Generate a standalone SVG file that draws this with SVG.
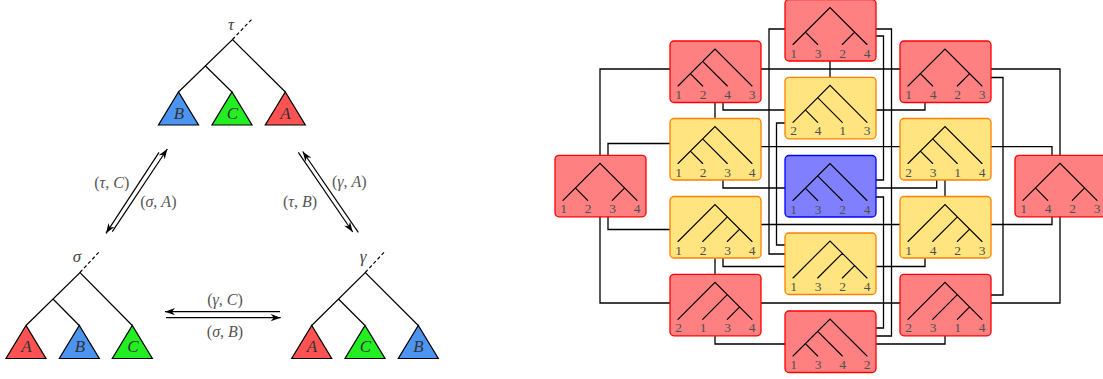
<svg xmlns="http://www.w3.org/2000/svg" xmlns:xlink="http://www.w3.org/1999/xlink" width="1103" height="379" viewBox="0 0 1103 379">
<style>
.edge{fill:none;stroke:#000;stroke-width:1.3}
.tl{fill:none;stroke:#000;stroke-width:1.1;stroke-linecap:round}
.lt{fill:none;stroke:#000;stroke-width:1.2}
.dash{fill:none;stroke:#000;stroke-width:1.2;stroke-dasharray:3.5,2.5}
.red{fill:#FF8080;stroke:#FF0000;stroke-width:1.3}
.yel{fill:#FFE480;stroke:#FF8000;stroke-width:1.3}
.blu{fill:#8080FF;stroke:#0000FF;stroke-width:1.3}
.num{font-family:"Liberation Serif",serif;font-size:13.5px;fill:#505050;text-anchor:middle}
.tri-r{fill:#FF5252;stroke:#000;stroke-width:1.2}
.tri-g{fill:#22EE22;stroke:#000;stroke-width:1.2}
.tri-b{fill:#4C94F2;stroke:#000;stroke-width:1.2}
.tlab{font-family:"Liberation Serif",serif;font-style:italic;font-size:17px;fill:#333;text-anchor:middle}
.rlab{font-family:"Liberation Serif",serif;font-style:italic;font-size:17px;fill:#444;text-anchor:middle}
.alab{font-family:"Liberation Serif",serif;font-size:16px;fill:#555;text-anchor:middle}
.it{font-style:italic}
.arr{fill:none;stroke:#000;stroke-width:1.2;marker-end:url(#ah)}
</style>
<defs>
<marker id="ah" viewBox="-11 -4 12 8" refX="0" refY="0" markerWidth="12" markerHeight="8" markerUnits="userSpaceOnUse" orient="auto">
<path d="M0,0 L-10,-3.6 L-7,0 L-10,3.6 Z" fill="#000"/>
</marker>
<path id="lc" class="tl" d="M8,45 L45,8 L82,45 M20.35,32.65 L32.7,45 M32.65,20.35 L57.3,45"/>
<path id="rc" class="tl" d="M8,45 L45,8 L82,45 M57.35,20.35 L32.7,45 M69.65,32.65 L57.3,45"/>
<path id="bal" class="tl" d="M8,45 L45,8 L82,45 M20.35,32.65 L32.7,45 M69.65,32.65 L57.3,45"/>
</defs>

<!-- Left diagram: trees -->
<g id="tree-tau">
<path class="dash" d="M232.5,39.5 L252,19"/>
<path class="lt" d="M178.5,92 L232.5,39.5 L285.3,92 M205.5,66 L232,92"/>
<polygon class="tri-b" points="158.5,125 198.5,125 178.5,92"/>
<polygon class="tri-g" points="212,125 252,125 232,92"/>
<polygon class="tri-r" points="265.3,125 305.3,125 285.3,92"/>
<text class="tlab" x="179" y="119">B</text>
<text class="tlab" x="232.5" y="119">C</text>
<text class="tlab" x="285.5" y="119">A</text>
<text class="rlab" x="231" y="30">τ</text>
</g>
<g id="tree-sigma">
<path class="dash" d="M80,272.5 L99,252"/>
<path class="lt" d="M26,325.5 L80,272.5 L132.3,325.5 M53,299 L79.3,325.5"/>
<polygon class="tri-r" points="6,358.5 46,358.5 26,325.5"/>
<polygon class="tri-b" points="59.3,358.5 99.3,358.5 79.3,325.5"/>
<polygon class="tri-g" points="112.3,358.5 152.3,358.5 132.3,325.5"/>
<text class="tlab" x="26.5" y="352">A</text>
<text class="tlab" x="80" y="352">B</text>
<text class="tlab" x="133" y="352">C</text>
<text class="rlab" x="77" y="262">σ</text>
</g>
<g id="tree-gamma">
<path class="dash" d="M365.3,272.5 L384.3,252"/>
<path class="lt" d="M311.7,325.5 L365.3,272.5 L418.3,325.5 M338.5,299 L365,325.5"/>
<polygon class="tri-r" points="291.7,358.5 331.7,358.5 311.7,325.5"/>
<polygon class="tri-g" points="345,358.5 385,358.5 365,325.5"/>
<polygon class="tri-b" points="398.3,358.5 438.3,358.5 418.3,325.5"/>
<text class="tlab" x="312" y="352">A</text>
<text class="tlab" x="365.5" y="352">C</text>
<text class="tlab" x="418.5" y="352">B</text>
<text class="rlab" x="363" y="262">γ</text>
</g>

<!-- Left diagram: moves -->
<g id="moves">
<path class="arr" d="M159,152.3 L106,233.3"/>
<path class="arr" d="M112.3,231.7 L167.3,149"/>
<path class="arr" d="M298.3,152.3 L352.7,232"/>
<path class="arr" d="M358.3,232.3 L302.7,151.5"/>
<path class="arr" d="M280,311.7 L165,311.7"/>
<path class="arr" d="M166,317.7 L280.7,317.7"/>
<text class="alab" x="111.7" y="188">(<tspan class="it">τ</tspan>, <tspan class="it">C</tspan>)</text>
<text class="alab" x="158.3" y="207">(<tspan class="it">σ</tspan>, <tspan class="it">A</tspan>)</text>
<text class="alab" x="349.3" y="187">(<tspan class="it">γ</tspan>, <tspan class="it">A</tspan>)</text>
<text class="alab" x="300" y="207">(<tspan class="it">τ</tspan>, <tspan class="it">B</tspan>)</text>
<text class="alab" x="225" y="304.5">(<tspan class="it">γ</tspan>, <tspan class="it">C</tspan>)</text>
<text class="alab" x="225" y="337">(<tspan class="it">σ</tspan>, <tspan class="it">B</tspan>)</text>
</g>

<!-- Right diagram: connectors -->
<g id="connectors">
<path class="edge" d="M670,69 H600 V303 H670"/>
<path class="edge" d="M670,143.5 H608 V229.5 H670"/>
<path class="edge" d="M715,102.5 V118.5"/>
<path class="edge" d="M723,102.5 V110 H785"/>
<path class="edge" d="M761,69 H900"/>
<path class="edge" d="M830,61 V77.3"/>
<path class="edge" d="M785,29 H769 V254 H785"/>
<path class="edge" d="M785,123 H776.5 V245 H785"/>
<path class="edge" d="M876,36 H883.5 V180 H876"/>
<path class="edge" d="M876,197 H883.5 V328 H876"/>
<path class="edge" d="M876,29 H891.5 V336 H876"/>
<path class="edge" d="M991,69 H1060 V303 H991"/>
<path class="edge" d="M991,77.5 H1003 V295 H991"/>
<path class="edge" d="M991,146.7 H1052 V224.5 H991"/>
<path class="edge" d="M925,102.5 V110 H876"/>
<path class="edge" d="M936.7,180 V188 H876"/>
<path class="edge" d="M945,180 V196.5"/>
<path class="edge" d="M723,180 V188 H785"/>
<path class="edge" d="M761,146.7 H900"/>
<path class="edge" d="M761,224.5 H900"/>
<path class="edge" d="M715,258 V274.3"/>
<path class="edge" d="M723,258 V266.5 H785"/>
<path class="edge" d="M925,258 V266.5 H876"/>
<path class="edge" d="M761,303 H900"/>
<path class="edge" d="M715,336 V344 H785"/>
<path class="edge" d="M945,336 V344 H876"/>
</g>

<!-- Right diagram: nodes -->
<g id="t1324-top" transform="translate(785,-0.5)">
<rect class="red" x="0" y="0" width="91" height="61.5" rx="4"/><use xlink:href="#bal" href="#bal"/>
<text class="num" x="8.5" y="58">1</text><text class="num" x="33" y="58">3</text><text class="num" x="57.5" y="58">2</text><text class="num" x="82" y="58">4</text>
</g>
<g id="t1243" transform="translate(670,41)">
<rect class="red" x="0" y="0" width="91" height="61.5" rx="4"/><use xlink:href="#lc" href="#lc"/>
<text class="num" x="8.5" y="58">1</text><text class="num" x="33" y="58">2</text><text class="num" x="57.5" y="58">4</text><text class="num" x="82" y="58">3</text>
</g>
<g id="t1423-top" transform="translate(900,41)">
<rect class="red" x="0" y="0" width="91" height="61.5" rx="4"/><use xlink:href="#bal" href="#bal"/>
<text class="num" x="8.5" y="58">1</text><text class="num" x="33" y="58">4</text><text class="num" x="57.5" y="58">2</text><text class="num" x="82" y="58">3</text>
</g>
<g id="t2413" transform="translate(785,77.3)">
<rect class="yel" x="0" y="0" width="91" height="61.5" rx="4"/><use xlink:href="#lc" href="#lc"/>
<text class="num" x="8.5" y="58">2</text><text class="num" x="33" y="58">4</text><text class="num" x="57.5" y="58">1</text><text class="num" x="82" y="58">3</text>
</g>
<g id="t1234-a" transform="translate(670,118.5)">
<rect class="yel" x="0" y="0" width="91" height="61.5" rx="4"/><use xlink:href="#lc" href="#lc"/>
<text class="num" x="8.5" y="58">1</text><text class="num" x="33" y="58">2</text><text class="num" x="57.5" y="58">3</text><text class="num" x="82" y="58">4</text>
</g>
<g id="t2314-a" transform="translate(900,118.5)">
<rect class="yel" x="0" y="0" width="91" height="61.5" rx="4"/><use xlink:href="#lc" href="#lc"/>
<text class="num" x="8.5" y="58">2</text><text class="num" x="33" y="58">3</text><text class="num" x="57.5" y="58">1</text><text class="num" x="82" y="58">4</text>
</g>
<g id="t1234-bal" transform="translate(555,155.3)">
<rect class="red" x="0" y="0" width="91" height="61.5" rx="4"/><use xlink:href="#bal" href="#bal"/>
<text class="num" x="8.5" y="58">1</text><text class="num" x="33" y="58">2</text><text class="num" x="57.5" y="58">3</text><text class="num" x="82" y="58">4</text>
</g>
<g id="t1324-center" transform="translate(785,155.5)">
<rect class="blu" x="0" y="0" width="91" height="61.5" rx="4"/><use xlink:href="#lc" href="#lc"/>
<text class="num" x="8.5" y="58">1</text><text class="num" x="33" y="58">3</text><text class="num" x="57.5" y="58">2</text><text class="num" x="82" y="58">4</text>
</g>
<g id="t1423-bal" transform="translate(1015,155.3)">
<rect class="red" x="0" y="0" width="91" height="61.5" rx="4"/><use xlink:href="#bal" href="#bal"/>
<text class="num" x="8.5" y="58">1</text><text class="num" x="33" y="58">4</text><text class="num" x="57.5" y="58">2</text><text class="num" x="82" y="58">3</text>
</g>
<g id="t1234-b" transform="translate(670,196.5)">
<rect class="yel" x="0" y="0" width="91" height="61.5" rx="4"/><use xlink:href="#rc" href="#rc"/>
<text class="num" x="8.5" y="58">1</text><text class="num" x="33" y="58">2</text><text class="num" x="57.5" y="58">3</text><text class="num" x="82" y="58">4</text>
</g>
<g id="t1423-b" transform="translate(900,196.5)">
<rect class="yel" x="0" y="0" width="91" height="61.5" rx="4"/><use xlink:href="#rc" href="#rc"/>
<text class="num" x="8.5" y="58">1</text><text class="num" x="33" y="58">4</text><text class="num" x="57.5" y="58">2</text><text class="num" x="82" y="58">3</text>
</g>
<g id="t1324-b" transform="translate(785,233)">
<rect class="yel" x="0" y="0" width="91" height="61.5" rx="4"/><use xlink:href="#rc" href="#rc"/>
<text class="num" x="8.5" y="58">1</text><text class="num" x="33" y="58">3</text><text class="num" x="57.5" y="58">2</text><text class="num" x="82" y="58">4</text>
</g>
<g id="t2134" transform="translate(670,274.3)">
<rect class="red" x="0" y="0" width="91" height="61.5" rx="4"/><use xlink:href="#rc" href="#rc"/>
<text class="num" x="8.5" y="58">2</text><text class="num" x="33" y="58">1</text><text class="num" x="57.5" y="58">3</text><text class="num" x="82" y="58">4</text>
</g>
<g id="t2314-b" transform="translate(900,274.3)">
<rect class="red" x="0" y="0" width="91" height="61.5" rx="4"/><use xlink:href="#rc" href="#rc"/>
<text class="num" x="8.5" y="58">2</text><text class="num" x="33" y="58">3</text><text class="num" x="57.5" y="58">1</text><text class="num" x="82" y="58">4</text>
</g>
<g id="t1342" transform="translate(785,311)">
<rect class="red" x="0" y="0" width="91" height="61.5" rx="4"/><use xlink:href="#lc" href="#lc"/>
<text class="num" x="8.5" y="58">1</text><text class="num" x="33" y="58">3</text><text class="num" x="57.5" y="58">4</text><text class="num" x="82" y="58">2</text>
</g>
</svg>
